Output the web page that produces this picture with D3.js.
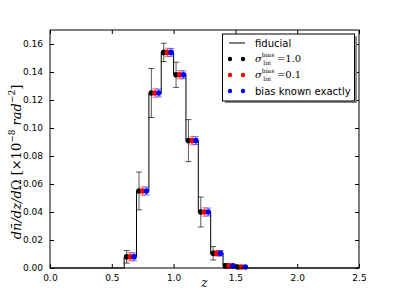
<!DOCTYPE html>
<html>
<head>
<meta charset="utf-8">
<script src="https://cdn.jsdelivr.net/npm/d3@7"></script>
<style>
  body { margin: 0; background: #fff; }
  svg { display: block; }
  .tick text { font-family: "DejaVu Sans", sans-serif; font-size: 9px; }
</style>
</head>
<body>
<svg id="chart"></svg>
<script>
let w = 399;
let h = 299;

// bin edges of the histogram (z)
let binLo = [0.6, 0.7, 0.8, 0.9, 1.0, 1.1, 1.2, 1.3, 1.4, 1.5];
let binHi = [0.7, 0.8, 0.9, 1.0, 1.1, 1.2, 1.3, 1.4, 1.5, 1.6];
// fiducial dn/dz/dOmega per bin
let fiducial = [0.008, 0.055, 0.125, 0.154, 0.138, 0.091, 0.040, 0.0105, 0.0015, 0.0007];
// error bars for each forecast
let errSigma1 = [0.0045, 0.0135, 0.0175, 0.0065, 0.009, 0.015, 0.0107, 0.0048, 0.0015, 0.0008];
let errSigma01 = [0.003, 0.003, 0.003, 0.003, 0.003, 0.003, 0.003, 0.002, 0.0012, 0.0008];
let errExact = [0.0028, 0.0028, 0.0028, 0.0028, 0.0028, 0.0028, 0.0028, 0.002, 0.0012, 0.0008];

let xTicks = [0.0, 0.5, 1.0, 1.5, 2.0, 2.5];
let yTicks = [0.00, 0.02, 0.04, 0.06, 0.08, 0.10, 0.12, 0.14, 0.16];

let margin = {left: 50, right: 40, top: 30, bottom: 31};

let svg = d3.select("#chart")
  .attr('width', w)
  .attr('height', h);

let xScale = d3.scaleLinear()
  .domain([0, 2.5])
  .range([margin.left, w - margin.right]);
let yScale = d3.scaleLinear()
  .domain([0, 0.17])
  .range([h - margin.bottom, margin.top]);

// fiducial step line
let stepPts = [[0, 0], [binLo[0], 0]];
binLo.forEach((lo, i) => {
  stepPts.push([lo, fiducial[i]]);
  stepPts.push([binHi[i], fiducial[i]]);
});
stepPts.push([binHi[binHi.length - 1], 0]);
stepPts.push([2.5, 0]);

let line = d3.line()
  .x(d => xScale(d[0]))
  .y(d => yScale(d[1]));

svg.append('path')
  .datum(stepPts)
  .attr('d', line)
  .attr('fill', 'none')
  .attr('stroke', '#000')
  .attr('stroke-width', 1);

// forecasts: offset from bin centre
let series = [
  {name: 's1', dx: -0.03, err: errSigma1, color: '#000', ecolor: 'rgba(0,0,0,0.65)'},
  {name: 's01', dx: 0.0, err: errSigma01, color: '#ff0000', ecolor: 'rgba(255,0,0,0.5)'},
  {name: 'exact', dx: 0.03, err: errExact, color: '#0000ff', ecolor: 'rgba(0,0,255,0.55)'}
];

series.forEach(s => {
  let g = svg.append('g');
  let pts = binLo.map((lo, i) => ({
    z: (lo + binHi[i]) / 2 + s.dx,
    v: fiducial[i],
    e: s.err[i]
  }));
  pts.forEach(p => {
    let x = xScale(p.z);
    g.append('line')
      .attr('x1', x).attr('x2', x)
      .attr('y1', yScale(p.v - p.e)).attr('y2', yScale(p.v + p.e))
      .attr('stroke', s.ecolor).attr('stroke-width', 1);
    [p.v - p.e, p.v + p.e].forEach(v => {
      g.append('line')
        .attr('x1', x - 3).attr('x2', x + 3)
        .attr('y1', yScale(v)).attr('y2', yScale(v))
        .attr('stroke', s.ecolor).attr('stroke-width', 1);
    });
  });
  g.selectAll('circle')
    .data(pts)
    .enter()
    .append('circle')
    .attr('cx', d => xScale(d.z))
    .attr('cy', d => yScale(d.v))
    .attr('r', 2.8)
    .attr('fill', s.color);
});

// axes with inward ticks on all sides
let xAxis = d3.axisBottom(xScale).tickValues(xTicks).tickFormat(d3.format('.1f')).tickSizeInner(-4).tickSizeOuter(0).tickPadding(7);
let yAxis = d3.axisLeft(yScale).tickValues(yTicks).tickFormat(d3.format('.2f')).tickSizeInner(-4).tickSizeOuter(0).tickPadding(7);

svg.append('g')
  .attr('transform', `translate(0,${h - margin.bottom})`)
  .call(xAxis);
svg.append('g')
  .attr('transform', `translate(${margin.left},0)`)
  .call(yAxis);
svg.append('g')
  .attr('transform', `translate(0,${margin.top})`)
  .call(d3.axisTop(xScale).tickValues(xTicks).tickSizeInner(-4).tickSizeOuter(0).tickFormat(''));
svg.append('g')
  .attr('transform', `translate(${w - margin.right},0)`)
  .call(d3.axisRight(yScale).tickValues(yTicks).tickSizeInner(-4).tickSizeOuter(0).tickFormat(''));

svg.selectAll('.domain').remove();
svg.append('rect')
  .attr('x', margin.left).attr('y', margin.top)
  .attr('width', w - margin.left - margin.right)
  .attr('height', h - margin.top - margin.bottom)
  .attr('fill', 'none').attr('stroke', '#000').attr('stroke-width', 1);

// axis labels
svg.append('text')
  .attr('x', xScale(1.25)).attr('y', 287)
  .attr('text-anchor', 'middle')
  .attr('font-family', 'DejaVu Serif, serif')
  .attr('font-style', 'italic')
  .attr('font-size', 12)
  .text('z');

let ylab = svg.append('text')
  .attr('transform', 'translate(21,162) rotate(-90)')
  .attr('text-anchor', 'middle')
  .attr('font-family', 'DejaVu Serif, serif')
  .attr('font-size', 13);
ylab.append('tspan').attr('font-style', 'italic').text('dn\u0304/dz/d');
ylab.append('tspan').text('\u03A9 [\u00D710');
ylab.append('tspan').attr('dy', -6).attr('font-size', 9).text('\u22128');
ylab.append('tspan').attr('dy', 6).attr('font-style', 'italic').text(' rad');
ylab.append('tspan').attr('dy', -6).attr('font-size', 9).text('\u22122');
ylab.append('tspan').attr('dy', 6).text(']');

// legend
let lg = svg.append('g');
lg.append('rect')
  .attr('x', 225).attr('y', 36).attr('width', 132).attr('height', 67)
  .attr('fill', '#888');
lg.append('rect')
  .attr('x', 222.5).attr('y', 34).attr('width', 132).attr('height', 67)
  .attr('fill', '#fff').attr('stroke', '#000').attr('stroke-width', 1);

lg.append('line')
  .attr('x1', 229).attr('x2', 245).attr('y1', 43).attr('y2', 43)
  .attr('stroke', '#000').attr('stroke-width', 1);
lg.append('text')
  .attr('x', 255).attr('y', 47)
  .attr('font-family', 'DejaVu Sans, sans-serif').attr('font-size', 10)
  .text('fiducial');

let legendRows = [
  {y: 59, color: '#000', val: '=1.0'},
  {y: 75, color: '#ff0000', val: '=0.1'},
  {y: 91, color: '#0000ff', val: null}
];
legendRows.forEach(r => {
  [230, 243].forEach(x => {
    lg.append('circle').attr('cx', x).attr('cy', r.y).attr('r', 2.2).attr('fill', r.color);
  });
  if (r.val) {
    let t = lg.append('text')
      .attr('x', 255).attr('y', r.y + 3)
      .attr('font-family', 'DejaVu Serif, serif').attr('font-size', 10);
    t.append('tspan').attr('font-style', 'italic').text('\u03C3');
    t.append('tspan').attr('dy', -5).attr('font-size', 6).text('bias');
    t.append('tspan').attr('dx', -11).attr('dy', 8).attr('font-size', 6).text('lin');
    t.append('tspan').attr('dx', 6).attr('dy', -3).text(r.val);
  } else {
    lg.append('text')
      .attr('x', 255).attr('y', r.y + 4)
      .attr('font-family', 'DejaVu Sans, sans-serif').attr('font-size', 10)
      .text('bias known exactly');
  }
});
</script>
</body>
</html>
